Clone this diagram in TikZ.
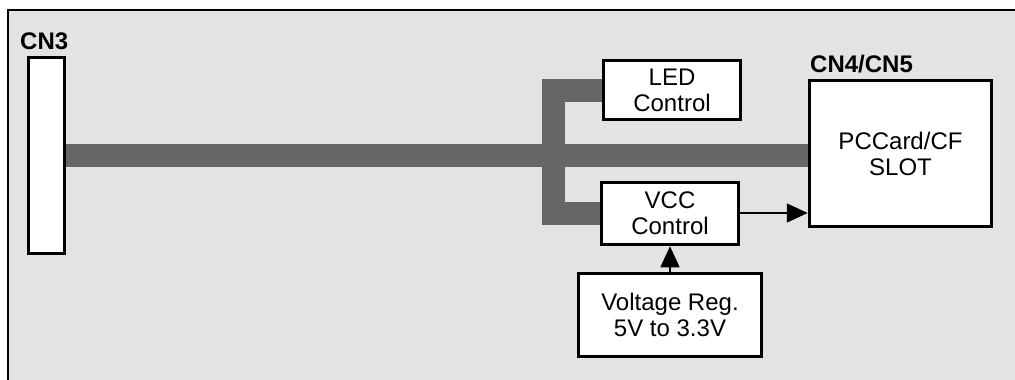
\documentclass[tikz,border=0pt]{standalone}
\usepackage{fontspec}
\setmainfont{Liberation Sans}
\usetikzlibrary{arrows.meta}
\definecolor{bgray}{HTML}{E3E3E3}
\definecolor{busgray}{HTML}{666666}
\begin{document}
\begin{tikzpicture}[x=1pt,y=-1pt,
  blk/.style={draw=black,line width=3.5pt,fill=white,inner sep=0pt,align=center,
    font=\fontsize{24}{26}\selectfont},
  lbl/.style={font=\fontsize{24}{26}\selectfont\bfseries,inner sep=0pt,anchor=base west},
  bus/.style={draw=busgray,line width=23pt},
  arr/.style={line width=1.5pt,-{Triangle[length=21pt,width=19pt]}}]
\useasboundingbox (0,0) rectangle (1015,380);
\fill[white] (0,0) rectangle (1015,380);
\fill[bgray] (8,10) rectangle (1015,380);
\draw[line width=1.5pt] (8,380) -- (8,10) -- (1015,10);
% blocks
\node[blk,minimum width=36pt,minimum height=196pt] (cn3) at (46.5,155.5) {};
\node[lbl] (cn3l) at (20,49) {CN3};
\node[blk,minimum width=137pt,minimum height=59pt] (led) at (672,90) {LED\\Control};
\node[blk,minimum width=137pt,minimum height=62pt] (vcc) at (670,213.5) {VCC\\Control};
\node[blk,minimum width=182pt,minimum height=146pt] (pc) at (900.5,153.5) {PCCard/CF\\SLOT};
\node[lbl] (pcl) at (810,72) {CN4/CN5};
\node[blk,minimum width=183pt,minimum height=83pt] (vr) at (670,315) {Voltage Reg.\\5V to 3.3V};
% bus
\draw[bus] (cn3.east) -- (cn3.east -| pc.west);
\draw[bus,line cap=butt] (led.west) -- ++(-48,0) |- (vcc.west);
% arrows
\draw[arr] (vcc.east |- 0,213) -- (pc.west |- 0,213);
\draw[arr] (vr.north) -- (vcc.south);
\end{tikzpicture}
\end{document}
